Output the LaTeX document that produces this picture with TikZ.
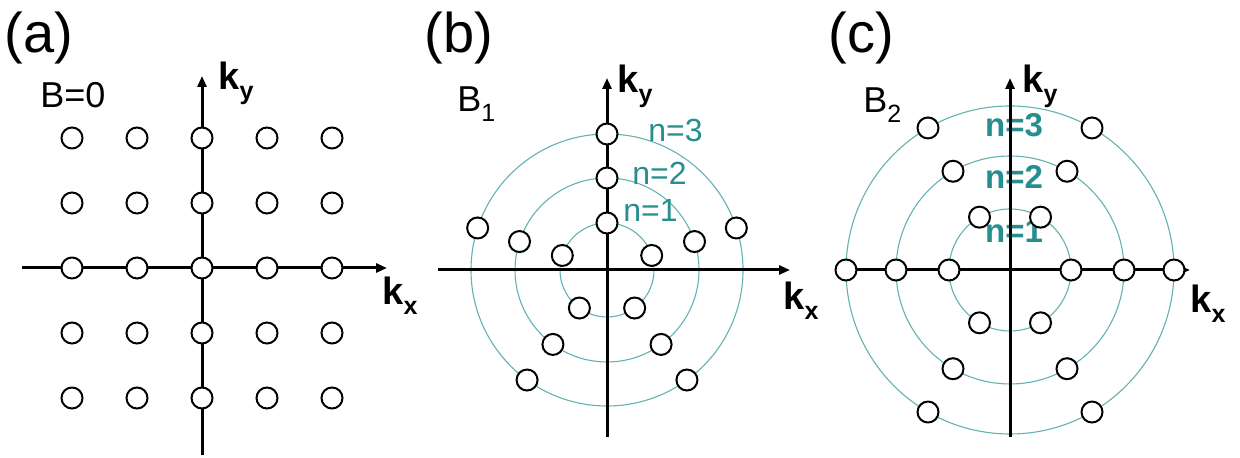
\documentclass[tikz,border=0pt]{standalone}
\usepackage{fontspec}
\setmainfont{Liberation Sans}
\usetikzlibrary{arrows.meta}

\definecolor{ringteal}{RGB}{100,178,178}
\definecolor{labelteal}{RGB}{38,142,142}
\newcommand{\lowsub}[1]{\raisebox{-5pt}{\fontsize{12.5}{12.5}\selectfont #1}}

\begin{document}
\begin{tikzpicture}[
    x=0.5pt, y=0.5pt,
    kdot/.style={circle, draw, fill=white, line width=1pt, inner sep=0pt,
        minimum size=10.5pt},
    lring/.style={draw=ringteal, line width=0.55pt},
    kaxis/.style={line width=1.5pt, -{Triangle[length=5.5pt, width=4.5pt]}},
    panel/.style={font=\fontsize{28}{30}\selectfont, inner sep=0pt},
    field/.style={font=\fontsize{18}{20}\selectfont, inner sep=0pt, anchor=base west},
    klabel/.style={font=\fontsize{19}{21}\selectfont\bfseries, inner sep=0pt, anchor=base west},
    nlabel/.style={font=\fontsize{16}{18}\selectfont, text=labelteal, inner sep=0pt, anchor=base west},
    nbold/.style={font=\fontsize{16.5}{18}\selectfont\bfseries, text=labelteal, inner sep=0pt, anchor=base}
]
\useasboundingbox[fill=white] (0,0) rectangle (1240,458);

% (a) square lattice, no field
\begin{scope}[shift={(202,190)}]
\node[panel] (a-tag) at (-163,230) {(a)};
\node[field] (a-field) at (-162,160) {B=0};
\coordinate (a-left) at (-180,0);
\coordinate (a-right) at (185,0);
\coordinate (a-bottom) at (0,-187);
\coordinate (a-top) at (0,192);
\draw[kaxis] (a-left) -- (a-right);
\draw[kaxis] (a-bottom) -- (a-top);
\node[klabel] (a-ky) at (16,178) {k\lowsub{y}};
\node[klabel] (a-kx) at (180,-37) {k\lowsub{x}};
\foreach \i in {1,...,5}
  \foreach \j in {1,...,5}
    \node[kdot] (a-\i-\j) at ({(\i-3)*65},{(3-\j)*65}) {};
\end{scope}

% (b) field B1, pentagons on Landau rings
\begin{scope}[shift={(607,188)}]
\node[panel] (b-tag) at (-148,232) {(b)};
\node[field] (b-field) at (-150,158) {B\lowsub{1}};
\foreach \r in {47,92,136}
  \draw[lring] (0,0) circle (\r);
\node[nlabel] (b-n3) at (41,128) {n=3};
\node[nlabel] (b-n2) at (25,85) {n=2};
\node[nlabel] (b-n1) at (16,48) {n=1};
\coordinate (b-left) at (-169,0);
\coordinate (b-right) at (183,0);
\coordinate (b-bottom) at (0,-167);
\coordinate (b-top) at (0,192);
\draw[kaxis] (b-left) -- (b-right);
\draw[kaxis] (b-bottom) -- (b-top);
\node[klabel] (b-ky) at (10,177) {k\lowsub{y}};
\node[klabel] (b-kx) at (176,-40) {k\lowsub{x}};
\foreach \r [count=\n] in {47,92,136}
  \foreach \k in {0,...,4}
    \node[kdot] (b-\n-\k) at ({90+72*\k}:\r) {};
\end{scope}

% (c) field B2, hexagons on Landau rings
\begin{scope}[shift={(1010,188)}]
\node[panel] (c-tag) at (-149,232) {(c)};
\node[field] (c-field) at (-147,157) {B\lowsub{2}};
\foreach \r in {61,114,164}
  \draw[lring] (0,0) circle (\r);
\node[nbold] (c-n3) at (4,133) {n=3};
\node[nbold] (c-n2) at (4,81) {n=2};
\node[nbold] (c-n1) at (4,27) {n=1};
\coordinate (c-left) at (-163,0);
\coordinate (c-right) at (180,0);
\coordinate (c-bottom) at (0,-167);
\coordinate (c-top) at (0,192);
\draw[kaxis] (c-left) -- (c-right);
\draw[kaxis] (c-bottom) -- (c-top);
\node[klabel] (c-ky) at (12,177) {k\lowsub{y}};
\node[klabel] (c-kx) at (180,-43) {k\lowsub{x}};
\foreach \r [count=\n] in {61,114,164}
  \foreach \k in {0,...,5}
    \node[kdot] (c-\n-\k) at ({60*\k}:\r) {};
\end{scope}
\end{tikzpicture}
\end{document}
